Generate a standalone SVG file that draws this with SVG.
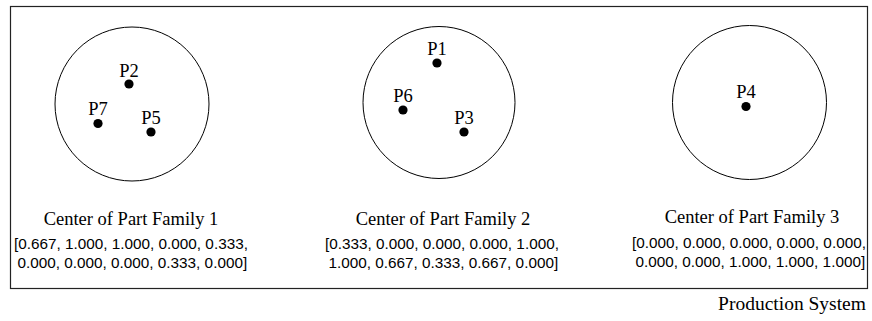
<svg xmlns="http://www.w3.org/2000/svg" width="872" height="321" viewBox="0 0 872 321">
  <style>
    .frame { fill: none; stroke: #222; stroke-width: 1.2; }
    .family { fill: none; stroke: #000; stroke-width: 1; }
    .pt { fill: #000; }
    .lbl { font-family: "Liberation Serif", "Times New Roman", serif; font-size: 18.5px; fill: #000; text-anchor: middle; }
    .sys { font-size: 19.5px; }
    .vec { font-family: "Liberation Sans", Arial, sans-serif; font-size: 15.3px; fill: #000; }
  </style>

  <!-- production system boundary -->
  <rect class="frame" x="10.5" y="6.5" width="857" height="282"/>
  <text class="lbl sys" x="792" y="310">Production System</text>

  <!-- part family 1 -->
  <g id="family1">
    <circle class="family" cx="132" cy="104" r="77"/>
    <g id="p2"><circle class="pt" cx="129" cy="84" r="4.6"/><text class="lbl" x="129" y="76.5">P2</text></g>
    <g id="p7"><circle class="pt" cx="98" cy="123.5" r="4.6"/><text class="lbl" x="98" y="115">P7</text></g>
    <g id="p5"><circle class="pt" cx="151" cy="132" r="4.6"/><text class="lbl" x="151" y="124">P5</text></g>
    <text class="lbl" x="131" y="225">Center of Part Family 1</text>
    <text class="vec" x="14" y="249">[0.667, 1.000, 1.000, 0.000, 0.333,</text>
    <text class="vec" x="17.5" y="268">0.000, 0.000, 0.000, 0.333, 0.000]</text>
  </g>

  <!-- part family 2 -->
  <g id="family2">
    <circle class="family" cx="439" cy="102.5" r="76"/>
    <g id="p1"><circle class="pt" cx="437" cy="63" r="4.6"/><text class="lbl" x="437" y="55">P1</text></g>
    <g id="p6"><circle class="pt" cx="403" cy="110" r="4.6"/><text class="lbl" x="403" y="102">P6</text></g>
    <g id="p3"><circle class="pt" cx="464" cy="132" r="4.6"/><text class="lbl" x="464" y="124">P3</text></g>
    <text class="lbl" x="443" y="225">Center of Part Family 2</text>
    <text class="vec" x="325" y="249">[0.333, 0.000, 0.000, 0.000, 1.000,</text>
    <text class="vec" x="328.5" y="268">1.000, 0.667, 0.333, 0.667, 0.000]</text>
  </g>

  <!-- part family 3 -->
  <g id="family3">
    <circle class="family" cx="749.5" cy="102.5" r="77"/>
    <g id="p4"><circle class="pt" cx="746" cy="106.5" r="4.6"/><text class="lbl" x="746" y="98">P4</text></g>
    <text class="lbl" x="752" y="223">Center of Part Family 3</text>
    <text class="vec" x="632" y="248">[0.000, 0.000, 0.000, 0.000, 0.000,</text>
    <text class="vec" x="635.5" y="267">0.000, 0.000, 1.000, 1.000, 1.000]</text>
  </g>
</svg>
